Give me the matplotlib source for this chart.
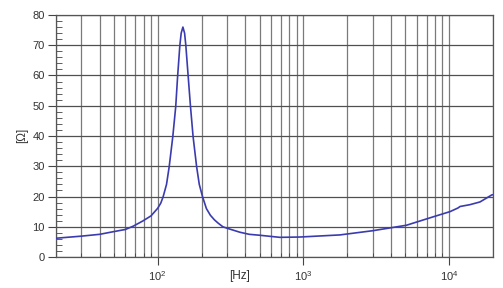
import numpy as np
import matplotlib
matplotlib.use("Agg")
import matplotlib.pyplot as plt
import matplotlib.ticker as mticker

# impedance curve
freq = [20, 30, 40, 50, 60, 68, 79, 90, 100, 105, 109, 115, 120, 127, 133, 137, 142, 145, 149,
        153, 156, 162, 168, 175, 185, 193, 203, 216, 230, 245, 260, 280, 300, 366, 425, 500, 690,
        940, 1780, 3000, 5100, 7800, 10150, 11500, 11900, 13900, 16300, 19600, 20000]
imp = [6.2, 6.9, 7.5, 8.4, 9.1, 10.2, 11.9, 13.6, 16.1, 17.8, 19.9, 24.0, 29.9, 39.8, 49.7, 59.6, 70, 74, 76,
       74, 70, 59.6, 49.7, 39.8, 29.9, 24.0, 20, 16, 13.8, 12.3, 11.2, 10, 9.5, 8.2, 7.5, 7.2, 6.5,
       6.6, 7.3, 8.7, 10.5, 13.3, 15, 16.2, 16.7, 17.3, 18.2, 20.5, 20.6]

x_ticks = [100, 1000, 10000]
x_labels = ["10$^2$", "10$^3$", "10$^4$"]
y_ticks = [0, 10, 20, 30, 40, 50, 60, 70, 80]

plt.rcParams['font.family'] = ['Liberation Sans', 'DejaVu Sans']
plt.rcParams['mathtext.default'] = 'regular'

fig = plt.figure(figsize=(5.03, 2.88), dpi=100, facecolor='white')
ax = fig.add_axes([0.111, 0.1076, 0.869, 0.8404])

ax.plot(freq, imp, color='#3b3bb0', lw=1.2, zorder=3)

ax.set_xscale('log')
ax.set_xlim(20, 20000)
ax.set_ylim(0, 80)

ax.set_xticks(x_ticks)
ax.set_xticklabels(x_labels)
ax.xaxis.set_minor_locator(mticker.LogLocator(base=10, subs=np.arange(2, 10)))
ax.xaxis.set_minor_formatter(mticker.NullFormatter())
ax.set_yticks(y_ticks)
ax.yaxis.set_minor_locator(mticker.MultipleLocator(2))

ax.grid(True, which='both', axis='x', color='#7a7a7a', lw=0.9)
ax.grid(True, which='major', axis='y', color='#505050', lw=0.9)
ax.set_axisbelow(True)

ax.tick_params(axis='both', which='major', direction='out', length=6, width=0.8,
               color='#444444', labelsize=8, labelcolor='#333333', pad=2)
ax.tick_params(axis='x', which='major', pad=3)
ax.tick_params(axis='y', which='minor', direction='in', length=4, width=0.6, color='#444444')
ax.tick_params(axis='x', which='minor', direction='in', length=3, width=0.6, color='#444444')

for s in ax.spines.values():
    s.set_color('#555555')
    s.set_linewidth(0.9)

fig.text(240 / 503, 1 - 276 / 288, "[Hz]", ha='center', va='center', fontsize=8.5, color='#333333')
fig.text(22 / 503, 1 - 135 / 288, "[Ω]", ha='center', va='center', rotation=90,
         fontsize=8.5, color='#333333')

fig.savefig('out.png', dpi=100, facecolor='white')
